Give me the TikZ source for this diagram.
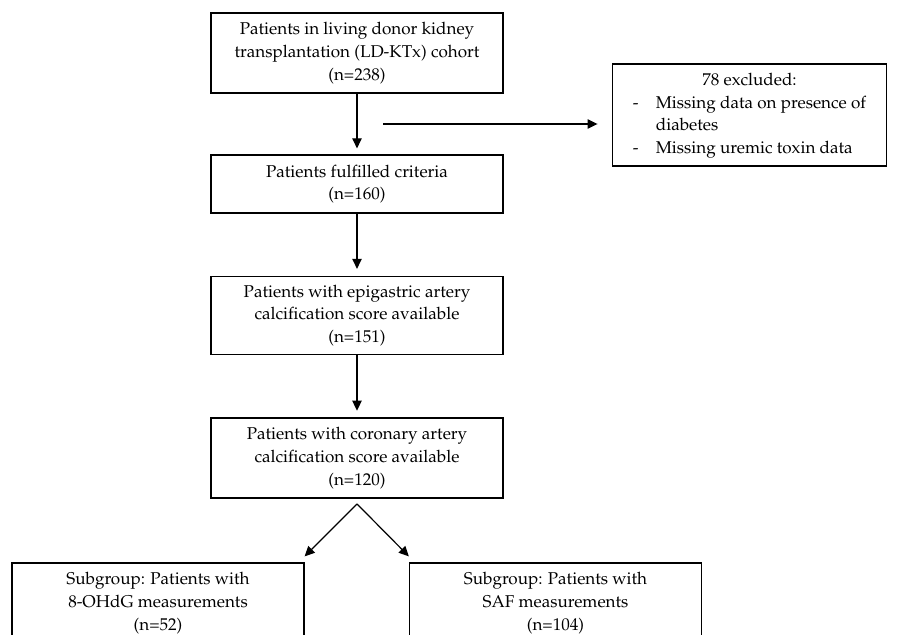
\documentclass[tikz,border=0pt]{standalone}
\usepackage[T1]{fontenc}
\usepackage{mathpazo}
\usetikzlibrary{arrows.meta}

\begin{document}
\begin{tikzpicture}[x=0.75pt, y=-0.75pt, line width=0.9pt,
  box/.style={draw, rectangle, minimum width=219pt, align=center, inner sep=2pt,
    font=\fontsize{12.8}{17}\selectfont},
  >={Triangle[length=7.5pt,width=7pt]}]
\useasboundingbox (0,0) rectangle (904,635);
\clip (0,0) rectangle (904,635);
% main column
\node[box, minimum height=60pt] (cohort) at (357,53) {Patients in living donor kidney\\transplantation (LD-KTx) cohort\\(n=238)};
\node[box, minimum height=43.5pt] (criteria) at (357,184) {Patients fulfilled criteria\\(n=160)};
\node[box, minimum height=59pt] (epigastric) at (357,315.5) {Patients with epigastric artery\\calcification score available\\(n=151)};
\node[box, minimum height=60pt] (coronary) at (357,458) {Patients with coronary artery\\calcification score available\\(n=120)};
% exclusions
\node[box, minimum width=206pt, minimum height=76.5pt] (excluded) at (749.5,115) {\begin{tabular}{@{}l@{\hspace{13pt}}l@{}}
  \multicolumn{2}{c}{78 excluded:}\\
  - & Missing data on presence of\\
    & diabetes\\
  - & Missing uremic toxin data
\end{tabular}};
% subgroups
\node[box, minimum height=60pt] (ohdg) at (158,603) {Subgroup: Patients with\\8-OHdG measurements\\(n=52)};
\node[box, minimum height=60pt] (saf) at (555.5,603) {Subgroup: Patients with\\SAF measurements\\(n=104)};

\draw[->, shorten >=4.5pt] (cohort) -- (criteria);
\coordinate (branch) at (383,124);
\draw[->, shorten >=10.5pt] (branch) -- (branch -| excluded.west);
\draw[->, shorten >=5pt] (criteria) -- (epigastric);
\draw[->, shorten >=5pt] (epigastric) -- (coronary);
\coordinate (fork) at ([yshift=-4pt]coronary.south);
\draw[->] (fork) -- ([yshift=4.5pt]ohdg.north east);
\draw[->] (fork) -- ([yshift=4.5pt]saf.north west);
\end{tikzpicture}
\end{document}
